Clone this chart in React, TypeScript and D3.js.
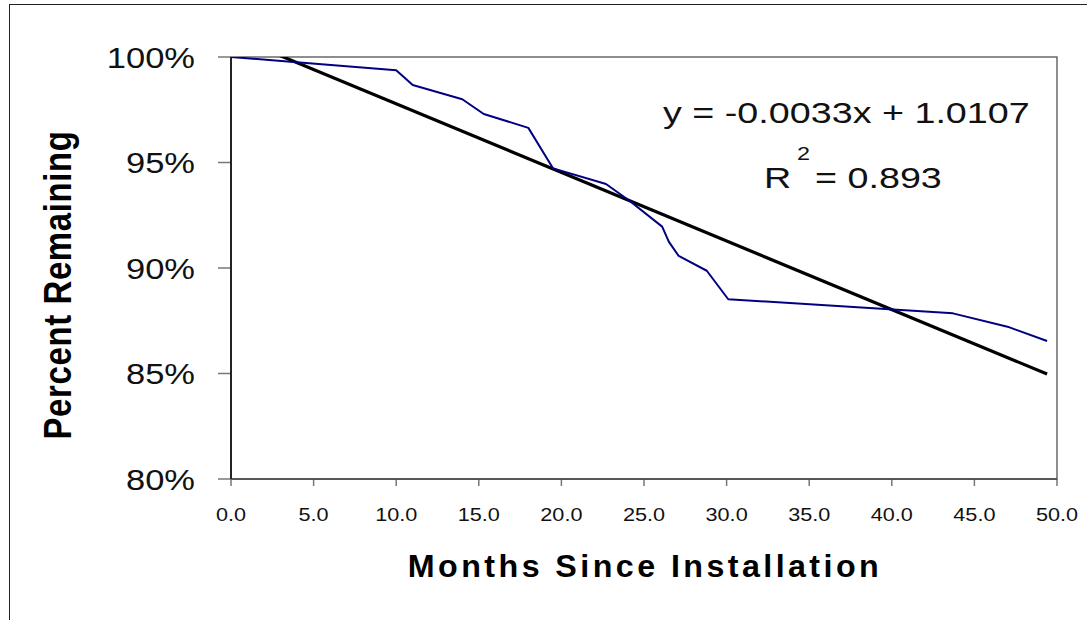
import * as d3 from "d3";

// readings (months since install, fraction remaining)
const months = [0, 3.6, 10.0, 11.0, 14.0, 15.3, 18.0, 19.0, 19.5, 22.7, 24.1, 26.1, 26.5, 27.1, 28.8, 30.1, 43.7, 47.0, 49.4];
const remaining = [1.0, 0.9978, 0.9937, 0.9867, 0.98, 0.973, 0.9664, 0.9536, 0.9472, 0.9398, 0.932, 0.9196, 0.9125, 0.9057, 0.8987, 0.8852, 0.8785, 0.8722, 0.8654];

// linear trendline as drawn (label shows rounded coefficients)
const trendSlope = -0.00325;
const trendIntercept = 1.0103;
const eqLabel = "y = -0.0033x + 1.0107";
const r2Value = "= 0.893";

const yTicks = [0.8, 0.85, 0.9, 0.95, 1.0];
const xTicks = [0, 5, 10, 15, 20, 25, 30, 35, 40, 45, 50];

const W = 1087;
const H = 620;
const font = "'Liberation Sans', Arial, sans-serif";

export default function App() {
  const x = d3.scaleLinear().domain([0, 50]).range([231, 1057]);
  const y = d3.scaleLinear().domain([0.8, 1.0]).range([479, 57]);

  const pts = months.map((m, i) => [m, remaining[i]] as [number, number]);
  const line = d3
    .line<[number, number]>()
    .x((d) => x(d[0]))
    .y((d) => y(d[1]));

  const tx0 = 0;
  const tx1 = d3.max(months) as number;
  const trend: [number, number][] = [
    [tx0, trendIntercept + trendSlope * tx0],
    [tx1, trendIntercept + trendSlope * tx1],
  ];

  const fmtPct = d3.format(".0%");
  const fmtX = d3.format(".1f");

  return (
    <svg
      width={W}
      height={H}
      style={{ position: "absolute", left: 0, top: 0, background: "#fff" }}
      fontFamily={font}
    >
      <defs>
        <clipPath id="plot">
          <rect x={x(0)} y={y(1)} width={x(50) - x(0)} height={y(0.8) - y(1)} />
        </clipPath>
      </defs>
      <rect x={0} y={0} width={W} height={H} fill="#fff" />
      {/* outer chart border */}
      <rect x={9.5} y={4.5} width={1200} height={800} fill="none" stroke="#222" strokeWidth={1} />

      {/* plot area border */}
      <rect
        x={x(0)}
        y={y(1)}
        width={x(50) - x(0)}
        height={y(0.8) - y(1)}
        fill="none"
        stroke="#444"
        strokeWidth={1.2}
      />

      {/* y axis */}
      {yTicks.map((t) => (
        <g key={t}>
          <line x1={x(0) - 13} x2={x(0)} y1={y(t)} y2={y(t)} stroke="#777" strokeWidth={1.5} />
          <text
            transform={`translate(195, ${y(t)}) scale(1.15, 1)`}
            textAnchor="end"
            dy="0.36em"
            fontSize={30}
            fill="#111"
          >
            {fmtPct(t)}
          </text>
        </g>
      ))}
      <line x1={x(0)} x2={x(0)} y1={y(1)} y2={y(0.8)} stroke="#000" strokeWidth={1.5} />

      {/* x axis */}
      {xTicks.map((t) => (
        <g key={t}>
          <line x1={x(t)} x2={x(t)} y1={y(0.8)} y2={y(0.8) + 7} stroke="#777" strokeWidth={1.5} />
          <text
            transform={`translate(${x(t)}, 521) scale(1.14, 1)`}
            textAnchor="middle"
            fontSize={19}
            fill="#111"
          >
            {fmtX(t)}
          </text>
        </g>
      ))}
      <line x1={x(0)} x2={x(50)} y1={y(0.8)} y2={y(0.8)} stroke="#444" strokeWidth={1.5} />

      {/* series + trendline */}
      <g clipPath="url(#plot)">
        <path d={line(trend) ?? ""} fill="none" stroke="#000" strokeWidth={3.2} />
        <path d={line(pts) ?? ""} fill="none" stroke="#000080" strokeWidth={2} strokeLinejoin="round" />
      </g>

      {/* trendline label */}
      <text transform="translate(663, 123) scale(1.3, 1)" fontSize={29} fill="#111">
        {eqLabel}
      </text>
      <text transform="translate(764, 188) scale(1.3, 1)" fontSize={29} fill="#111">
        R
      </text>
      <text transform="translate(797, 160) scale(1.3, 1)" fontSize={18} fill="#111">
        2
      </text>
      <text transform="translate(815, 188) scale(1.3, 1)" fontSize={29} fill="#111">
        {r2Value}
      </text>

      {/* axis titles */}
      <text
        transform="translate(645, 577) scale(1.04, 1)"
        textAnchor="middle"
        fontSize={31}
        fontWeight="bold"
        letterSpacing={3.3}
        fill="#000"
      >
        Months Since Installation
      </text>
      <text
        transform="translate(71, 285) scale(1.15, 1) rotate(-90)"
        textAnchor="middle"
        fontSize={33}
        fontWeight="bold"
        letterSpacing={0.6}
        fill="#000"
      >
        Percent Remaining
      </text>
    </svg>
  );
}
